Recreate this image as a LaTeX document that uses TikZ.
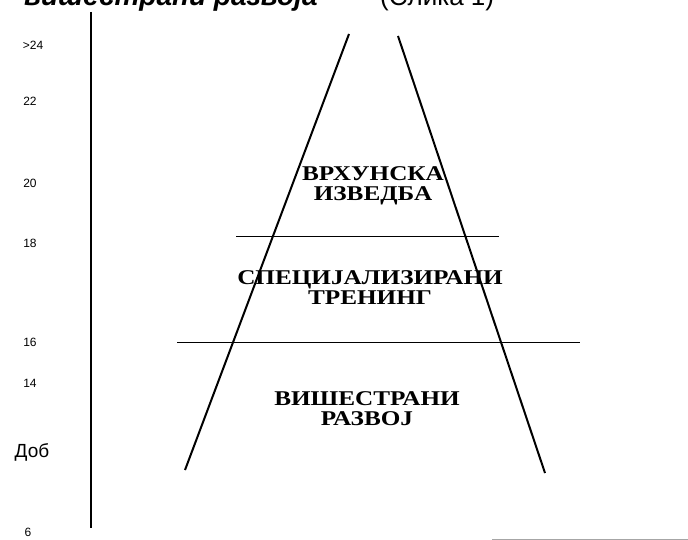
\documentclass[tikz,border=0pt]{standalone}
\usepackage{fontspec}
\setmainfont{Liberation Serif}
\newfontfamily\axfont{Liberation Sans}
\newfontfamily\stagefont{Liberation Serif}[FakeStretch=1.2]
\begin{document}
\begin{tikzpicture}[x=1pt,y=-1pt,
  axlabel/.style={font=\axfont\fontsize{12}{14}\selectfont, anchor=center},
  stage/.style={font=\stagefont\bfseries\fontsize{21}{20}\selectfont, align=center, anchor=center, inner sep=0pt},
  edge/.style={line width=2pt},
  divider/.style={line width=0.9pt}]
\useasboundingbox (0,0) rectangle (688,540);
\clip (0,0) rectangle (688,540);
% caption, cut off at top
\node[anchor=base west, inner sep=0pt, font=\axfont\bfseries\itshape\fontsize{28}{30}\selectfont] (cap) at (24,6) {вишестрани развоја"};
\node[anchor=base west, inner sep=0pt, font=\axfont\fontsize{26}{28}\selectfont] (cap2) at (380,6) {(Слика 1)};
% axis
\coordinate (axtop) at (91,12);
\coordinate (axbot) at (91,528);
\draw[line width=1.2pt] (axtop) -- (axbot);
% axis labels
\node[axlabel] (l24) at (33,45) {>24};
\node[axlabel] (l22) at (30,101) {22};
\node[axlabel] (l20) at (30,183) {20};
\node[axlabel] (l18) at (30,243) {18};
\node[axlabel] (l16) at (30,342) {16};
\node[axlabel] (l14) at (30,383) {14};
\node[font=\axfont\fontsize{19}{22}\selectfont, anchor=center] (ldob) at (32,452) {Доб};
\node[axlabel] (l6) at (28,532) {6};
% pyramid edges
\coordinate (ltop) at (349,34);
\coordinate (lbot) at (185,470);
\coordinate (rtop) at (398,36);
\coordinate (rbot) at (545,473);
\draw[edge] (ltop) -- (lbot);
\draw[edge] (rtop) -- (rbot);
% dividers
\coordinate (d1a) at (236,236);
\coordinate (d1b) at (499,236);
\coordinate (d2a) at (177,342);
\coordinate (d2b) at (580,342);
\draw[divider] (d1a) -- (d1b);
\draw[divider] (d2a) -- (d2b);
% stage texts
\node[stage] (top) at (373,186) {ВРХУНСКА\\ИЗВЕДБА};
\node[stage] (mid) at (370,288) {СПЕЦИЈАЛИЗИРАНИ\\ТРЕНИНГ};
\node[stage] (base) at (367,409) {ВИШЕСТРАНИ\\РАЗВОЈ};
% grey rule bottom right
\coordinate (g1) at (492,539);
\coordinate (g2) at (688,539);
\draw[gray!70, line width=1pt] (g1) -- (g2);
\end{tikzpicture}
\end{document}
